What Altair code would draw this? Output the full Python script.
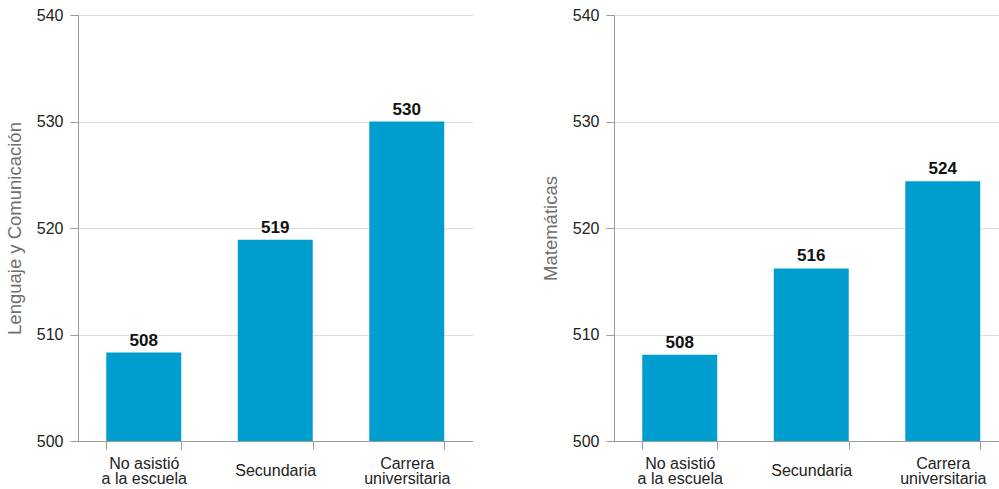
import altair as alt
import pandas as pd

categorias = ["No asistió\na la escuela", "Secundaria", "Carrera\nuniversitaria"]
lenguaje = [508.3, 518.9, 530.0]
matematicas = [508.1, 516.2, 524.4]
y_ticks = [500, 510, 520, 530, 540]

FONT = "Liberation Sans"
BAR = "#009ECE"


def panel(values, title):
    df = pd.DataFrame({"categoria": categorias, "valor": values})
    x = alt.X(
        "categoria:N",
        sort=categorias,
        scale=alt.Scale(paddingInner=0.43, paddingOuter=0.215),
        axis=alt.Axis(
            title=None,
            labelAngle=0,
            labelExpr="split(datum.label, '\\n')",
            labelBaseline="middle",
            labelPadding={"condition": {"test": "indexof(datum.label, '\\n') < 0", "value": 21}, "value": 14},
            labelLineHeight=15,
            tickBand="extent",
            tickSize=8,
            grid=False,
        ),
    )
    y = alt.Y(
        "valor:Q",
        scale=alt.Scale(domain=[500, 540], zero=False, nice=False),
        axis=alt.Axis(
            title=title,
            values=y_ticks,
            tickSize=8,
            labelPadding=7,
            titlePadding=12,
            grid=True,
        ),
    )
    base = alt.Chart(df)
    bars = base.mark_bar(color=BAR).encode(x=x, y=y, y2=alt.datum(500))
    labels = base.mark_text(
        dy=-7, baseline="alphabetic", fontWeight="bold", fontSize=17, font=FONT, color="#111"
    ).encode(x=x, y=y, text=alt.Text("valor:Q", format=".0f"))
    return (bars + labels).properties(width=394.5, height=426)


chart = (
    alt.hconcat(panel(lenguaje, "Lenguaje y Comunicación"), panel(matematicas, "Matemáticas"), spacing=68)
    .properties(padding={"left": 5, "top": 7, "right": -10, "bottom": 0})
    .configure_view(stroke=None)
    .configure_axis(
        domainColor="#9a9a9a",
        tickColor="#9a9a9a",
        gridColor="#dedede",
        labelFont=FONT,
        labelFontSize=16,
        labelColor="#222",
        titleFont=FONT,
        titleFontSize=18.5,
        titleFontWeight="normal",
        titleColor="#6e6e6e",
    )
)

chart.save("out.html", embed_options={"renderer": "svg", "actions": False})
